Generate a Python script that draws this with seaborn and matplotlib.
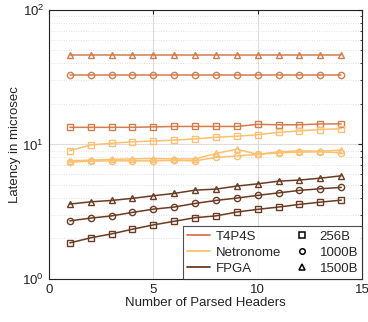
import numpy as np
import pandas as pd
import seaborn as sns
import matplotlib
matplotlib.use("Agg")
import matplotlib.pyplot as plt
from matplotlib.lines import Line2D
from matplotlib.ticker import LogLocator, NullFormatter

sns.set_style("white")
plt.rcParams['font.family'] = ['Liberation Sans', 'DejaVu Sans']
plt.rcParams['mathtext.fontset'] = 'custom'
plt.rcParams['mathtext.rm'] = 'Liberation Sans'

headers = list(range(1, 15))

t4p4s_256 = [13.4, 13.4, 13.4, 13.4, 13.5, 13.6, 13.6, 13.6, 13.6, 14.1, 14.0, 14.0, 14.2, 14.2]
t4p4s_1000 = [33.0] * 14
t4p4s_1500 = [46.5] * 14

netro_256 = [9.0, 9.9, 10.2, 10.45, 10.6, 10.75, 11.0, 11.3, 11.5, 11.8, 12.3, 12.6, 12.9, 13.1]
netro_1000 = [7.38, 7.51, 7.55, 7.55, 7.55, 7.6, 7.55, 8.0, 8.2, 8.43, 8.66, 8.76, 8.81, 8.66]
netro_1500 = [7.55, 7.64, 7.74, 7.8, 7.85, 7.8, 7.8, 8.57, 9.2, 8.45, 8.8, 8.96, 8.9, 9.07]

fpga_256 = [1.85, 2.02, 2.16, 2.34, 2.52, 2.68, 2.85, 2.94, 3.14, 3.29, 3.42, 3.58, 3.72, 3.85]
fpga_1000 = [2.70, 2.83, 2.94, 3.12, 3.30, 3.42, 3.64, 3.83, 3.99, 4.18, 4.36, 4.55, 4.68, 4.79]
fpga_1500 = [3.60, 3.74, 3.83, 3.97, 4.15, 4.32, 4.57, 4.65, 4.90, 5.09, 5.33, 5.43, 5.61, 5.84]

platforms = ["T4P4S", "Netronome", "FPGA"]
sizes = ["256B", "1000B", "1500B"]
colors = {"T4P4S": "#D47C4A", "Netronome": "#FDC070", "FPGA": "#6B3B22"}
markers = {"256B": "s", "1000B": "o", "1500B": "^"}

series = {
    ("T4P4S", "256B"): t4p4s_256, ("T4P4S", "1000B"): t4p4s_1000, ("T4P4S", "1500B"): t4p4s_1500,
    ("Netronome", "256B"): netro_256, ("Netronome", "1000B"): netro_1000, ("Netronome", "1500B"): netro_1500,
    ("FPGA", "256B"): fpga_256, ("FPGA", "1000B"): fpga_1000, ("FPGA", "1500B"): fpga_1500,
}

rows = []
for (p, s), vals in series.items():
    for x, v in zip(headers, vals):
        rows.append({"platform": p, "size": s, "headers": x, "latency": v})
df = pd.DataFrame(rows)

FS = 9.5
fig = plt.figure(figsize=(3.68, 3.22), dpi=100)
ax = fig.add_axes([0.133, 0.134, 0.851, 0.835])

for p in platforms:
    for s in sizes:
        d = df[(df.platform == p) & (df["size"] == s)]
        sns.lineplot(data=d, x="headers", y="latency", ax=ax, color=colors[p],
                     marker=markers[s], markersize=4.5 if s != "256B" else 4.0,
                     markerfacecolor="none", markeredgecolor=colors[p],
                     markeredgewidth=1.0, linewidth=1.1, legend=False)

ax.set_yscale("log")
ax.set_ylim(1, 100)
ax.set_xlim(0, 15)
ax.set_xticks([0, 5, 10, 15])
ax.yaxis.set_major_locator(LogLocator(base=10, numticks=5))
ax.yaxis.set_minor_locator(LogLocator(base=10, subs=np.arange(2, 10), numticks=20))
ax.yaxis.set_minor_formatter(NullFormatter())

ax.grid(True, which="major", color="#DDDDDD", linewidth=0.8, linestyle="-")
ax.grid(True, which="minor", axis="y", color="#C8C8C8", linewidth=0.5, linestyle=(0, (1, 2.5)))
ax.set_axisbelow(True)

ax.tick_params(axis="both", which="both", direction="in", top=True, right=True,
               labelsize=FS, colors="#222222", length=3)
ax.tick_params(axis="y", which="minor", length=1.8)
for sp in ax.spines.values():
    sp.set_color("#222222")
    sp.set_linewidth(0.8)

ax.set_xlabel("Number of Parsed Headers", fontsize=FS, color="#222222", labelpad=1)
ax.set_ylabel("Latency in microsec", fontsize=FS, color="#222222", labelpad=1)

handles = [Line2D([], [], color=colors[p], linewidth=1.3) for p in platforms]
handles += [Line2D([], [], color="black", marker=markers[s], linestyle="none",
                   markerfacecolor="none", markersize=4.0, markeredgewidth=1.1) for s in sizes]
labels = platforms + sizes
leg = ax.legend(handles, labels, ncol=2, loc="lower right", fontsize=FS,
                frameon=True, fancybox=False, edgecolor="#222222",
                borderaxespad=0, handlelength=1.75, handletextpad=0.45,
                columnspacing=0.7, labelspacing=0.3, borderpad=0.3)
leg.get_frame().set_linewidth(0.8)

fig.savefig("out.png", dpi=100)
